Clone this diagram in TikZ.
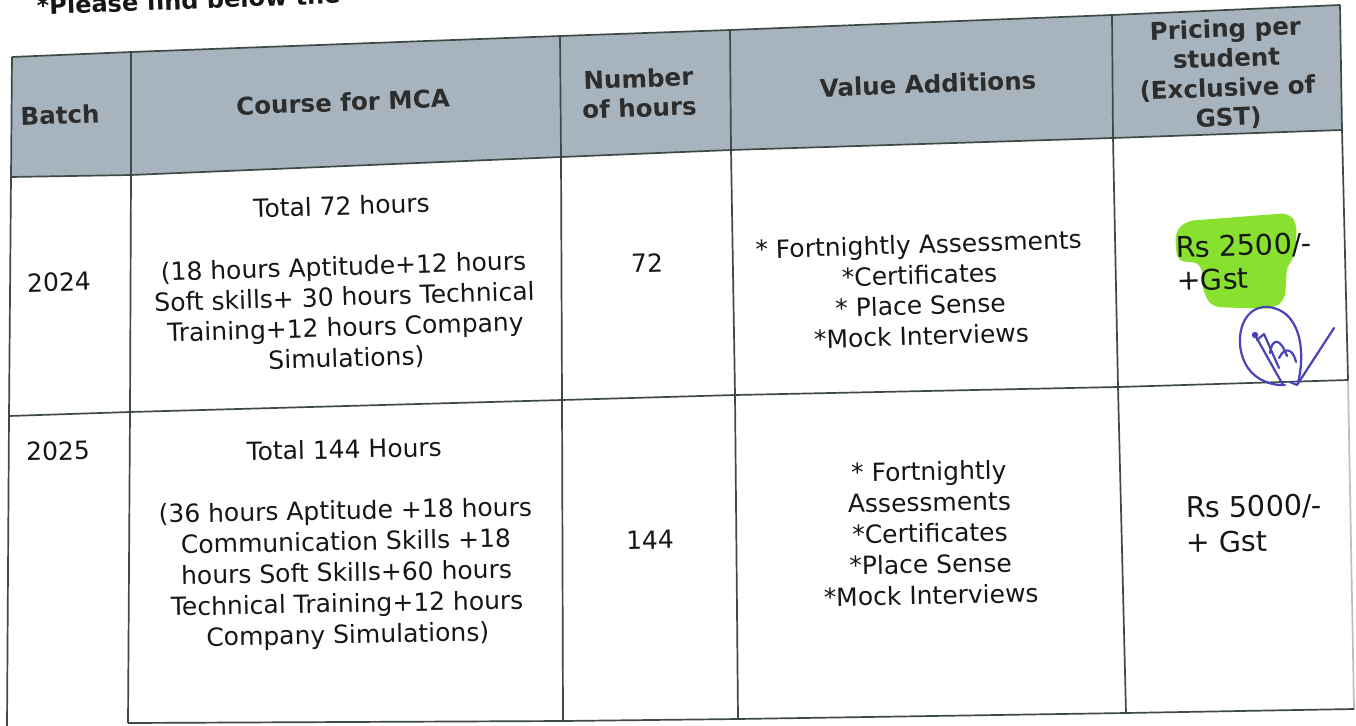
\documentclass[tikz,border=0pt]{standalone}
\usepackage{fontspec}
\setmainfont{DejaVu Sans}
\definecolor{hdrfill}{HTML}{A7B4BD}
\definecolor{gridline}{HTML}{3E4A46}
\definecolor{inktext}{HTML}{161616}
\definecolor{hilite}{HTML}{7EDF1E}
\definecolor{sigink}{HTML}{4C42B8}
\tikzset{
  grid/.style={draw=gridline, line width=1.7pt, line join=round},
  hdr/.style={font=\bfseries\fontsize{24.5}{29.5}\selectfont, text=inktext!90, align=center, rotate=2.1, inner sep=0pt},
  bodyA/.style={font=\fontsize{25}{30.5}\selectfont, text=inktext, align=center, rotate=1.8, inner sep=0pt},
  bodyB/.style={font=\fontsize{25}{31}\selectfont, text=inktext, align=center, rotate=1.1, inner sep=0pt},
  price/.style={font=\fontsize{28.5}{33}\selectfont, text=inktext, align=left, inner sep=0pt},
  sig/.style={draw=sigink, line width=2.2pt, line cap=round, line join=round}
}
\begin{document}
\begin{tikzpicture}[x=1pt,y=-1pt]
\useasboundingbox[fill=white] (0,0) rectangle (1356,725);

% grid points
\coordinate (a0) at (12,57);   \coordinate (b0) at (131,52);  \coordinate (c0) at (560,36);
\coordinate (d0) at (730,30);  \coordinate (e0) at (1112,15); \coordinate (f0) at (1340,5);
\coordinate (a1) at (11,177);  \coordinate (b1) at (131,175); \coordinate (c1) at (561,157);
\coordinate (d1) at (731,150); \coordinate (e1) at (1113,138);\coordinate (f1) at (1342,130);
\coordinate (a2) at (9,416);   \coordinate (b2) at (130,412); \coordinate (c2) at (562,400);
\coordinate (d2) at (735,395); \coordinate (e2) at (1118,387);\coordinate (f2) at (1348,380);
\coordinate (a3) at (7,727);   \coordinate (b3) at (128,723); \coordinate (c3) at (563,721);
\coordinate (d3) at (738,719); \coordinate (e3) at (1126,713);\coordinate (f3) at (1354,709);

% header background
\fill[hdrfill] (a0)--(b0)--(c0)--(d0)--(e0)--(f0)--(f1)--(e1)--(d1)--(c1)--(b1)--(a1)--cycle;

% highlight of first price
\fill[hilite, opacity=0.92, rounded corners=8pt]
  (1175,232) -- (1186,221) -- (1289,213) -- (1297,224) -- (1295,258)
  -- (1287,264) -- (1285,300) -- (1272,309) -- (1212,307) -- (1203,292)
  -- (1201,263) -- (1177,261) -- cycle;

% grid lines
\draw[grid] (a0)--(b0)--(c0)--(d0)--(e0)--(f0);
\draw[grid] (a1)--(b1)--(c1)--(d1)--(e1)--(f1);
\draw[grid] (a2)--(b2)--(c2)--(d2)--(e2)--(f2);
\draw[grid] (b3)--(c3)--(d3)--(e3)--(f3);
\draw[grid] (a0)--(a1)--(a2)--(a3);
\draw[grid] (b0)--(b1)--(b2)--(b3);
\draw[grid] (c0)--(c1)--(c2)--(c3);
\draw[grid] (d0)--(d1)--(d2)--(d3);
\draw[grid] (e0)--(e1)--(e2)--(e3);
\draw[grid] (f0)--(f1)--(f2);
\draw[grid, draw opacity=0.35] (f2)--(f3);

% caption cut off at the top
\node[font=\bfseries\fontsize{24}{28}\selectfont, text=inktext, anchor=base west, rotate=2.2, inner sep=0pt] (cap) at (37,15) {*Please find below the};

% header
\node[hdr] (hBatch) at (60,115) {Batch};
\node[hdr] (hCourse) at (343,102) {Course for MCA};
\node[hdr] (hHours) at (639,93) {Number\\of hours};
\node[hdr] (hValue) at (928,84) {Value Additions};
\node[hdr] (hPrice) at (1227,74) {Pricing per\\student\\(Exclusive of\\GST)};

% row 2024
\node[bodyA] (r1Batch) at (59,282) {2024};
\node[bodyA] (r1Course) at (344,283) {Total 72 hours\\[30pt](18 hours Aptitude+12 hours\\Soft skills+ 30 hours Technical\\Training+12 hours Company\\Simulations)};
\node[bodyA] (r1Hours) at (647,263) {72};
\node[bodyA] (r1Value) at (920,290) {* Fortnightly Assessments\\*Certificates\\* Place Sense\\*Mock Interviews};
\node[price, rotate=1.8, anchor=west] (r1Price) at (1176,264) {Rs 2500/-\\+Gst};

% signature
\draw[sig] (1285,385) .. controls (1272,386) and (1256,380) .. (1248,368)
  .. controls (1232,345) and (1240,305) .. (1268,307)
  .. controls (1300,310) and (1306,350) .. (1298,383);
\fill[sigink] (1255,335) circle (3.2);
\draw[sig] (1255,335) -- (1283,385);
\draw[sig] (1257,340) -- (1264,334) -- (1279,368);
\draw[sig] (1270,353) .. controls (1272,338) and (1280,337) .. (1287,356);
\draw[sig] (1279,358) .. controls (1285,346) and (1293,349) .. (1296,362);
\draw[sig] (1290,382) -- (1297,385) -- (1334,328);

% row 2025
\node[bodyB] (r2Batch) at (58,451) {2025};
\node[bodyB] (r2Course) at (346,544) {Total 144 Hours\\[30pt](36 hours Aptitude +18 hours\\Communication Skills +18\\hours Soft Skills+60 hours\\Technical Training+12 hours\\Company Simulations)};
\node[bodyB] (r2Hours) at (650,540) {144};
\node[bodyB] (r2Value) at (930,533) {* Fortnightly\\Assessments\\*Certificates\\*Place Sense\\*Mock Interviews};
\node[price, font=\fontsize{28.5}{35}\selectfont, rotate=1.1, anchor=west] (r2Price) at (1186,525) {Rs 5000/-\\+ Gst};
\end{tikzpicture}
\end{document}
